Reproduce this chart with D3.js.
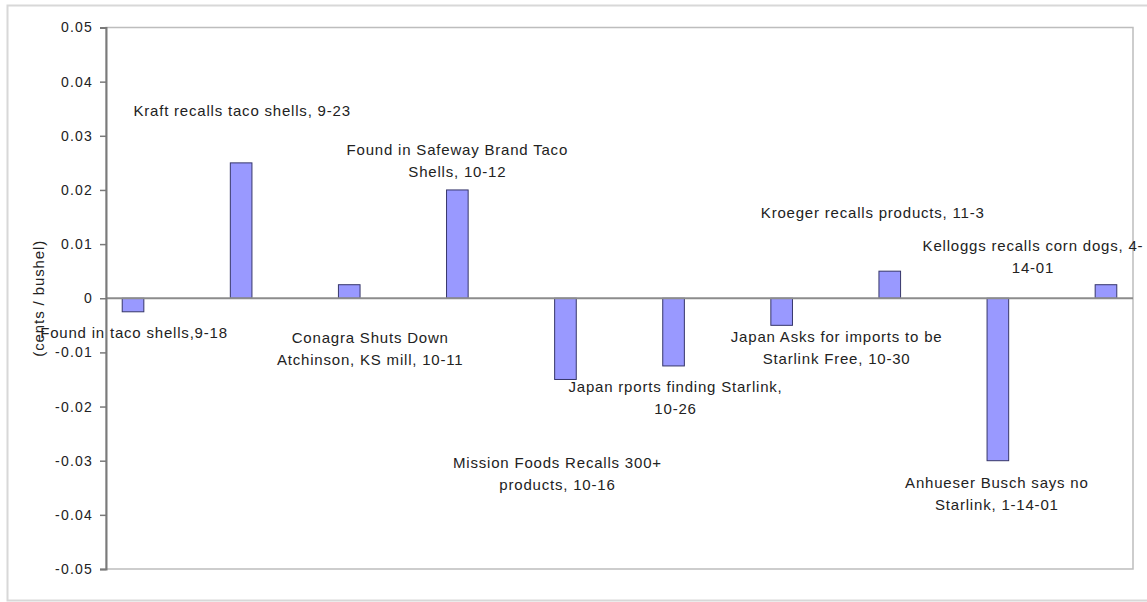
<!DOCTYPE html>
<html>
<head>
<meta charset="utf-8">
<script src="https://cdn.jsdelivr.net/npm/d3@7"></script>
<style>
  body { margin: 0; background: #fff; }
  svg { display: block; font-family: "Liberation Sans", Arial, sans-serif; }
  .tick text { fill: #222; }
</style>
</head>
<body>
<svg id="chart" width="1147" height="602"></svg>
<script>
// events in date order, one bar each
const events = ["9-18", "9-23", "10-11", "10-12", "10-16", "10-26", "10-30", "11-3", "1-14-01", "4-14-01"];
const change = [-0.0025, 0.025, 0.0025, 0.02, -0.015, -0.0125, -0.005, 0.005, -0.03, 0.0025];
const yTicks = [0.05, 0.04, 0.03, 0.02, 0.01, 0, -0.01, -0.02, -0.03, -0.04, -0.05];
const notes = [
  ["Found in taco shells,9-18"],
  ["Kraft recalls taco shells, 9-23"],
  ["Conagra Shuts Down", "Atchinson, KS mill, 10-11"],
  ["Found in Safeway Brand Taco", "Shells, 10-12"],
  ["Mission Foods Recalls 300+", "products, 10-16"],
  ["Japan rports finding Starlink,", "10-26"],
  ["Japan Asks for imports to be", "Starlink Free, 10-30"],
  ["Kroeger recalls products, 11-3"],
  ["Anhueser Busch says no", "Starlink, 1-14-01"],
  ["Kelloggs recalls corn dogs, 4-", "14-01"]
];
// where each note sits: px offset from bar centre, and first-line centre in data units
const notePos = [
  [1, -0.0064], [1, 0.0347], [21, -0.0073], [0, 0.0275], [-8, -0.0304],
  [2, -0.0164], [55, -0.0071], [-17, 0.0157], [-1, -0.0340], [-73, 0.0097]
];

const svg = d3.select("#chart");
const plotLeft = 106, plotRight = 1133, plotTop = 27.5, plotBottom = 569;

// outer chart frame
svg.append("rect")
  .attr("x", 7.5).attr("y", 5.5).attr("width", 1150).attr("height", 595)
  .attr("fill", "none").attr("stroke", "#d8d8d8").attr("stroke-width", 2);

let x = d3.scaleBand().domain(events).range([plotLeft, plotRight])
  .paddingInner(0.8).paddingOuter(0.15);
let y = d3.scaleLinear().domain([-0.05, 0.05]).range([plotBottom, plotTop]);

// plot area border
svg.append("rect")
  .attr("x", plotLeft).attr("y", y(0.05))
  .attr("width", plotRight - plotLeft).attr("height", y(-0.05) - y(0.05))
  .attr("fill", "none").attr("stroke", "#bdbdbd").attr("stroke-width", 1.5);

// bars
svg.append("g").selectAll("rect")
  .data(change)
  .enter().append("rect")
  .attr("x", (d, i) => x(events[i]))
  .attr("width", x.bandwidth())
  .attr("y", d => y(Math.max(0, d)))
  .attr("height", d => Math.abs(y(d) - y(0)))
  .attr("fill", "#9999ff")
  .attr("stroke", "#36366a")
  .attr("stroke-width", 1);

// zero line (category axis)
svg.append("line")
  .attr("x1", plotLeft).attr("x2", plotRight).attr("y1", y(0)).attr("y2", y(0))
  .attr("stroke", "#8c8c8c").attr("stroke-width", 2);

// value axis, plain hyphen for the minus sign like the original
let yAxis = svg.append("g")
  .attr("transform", "translate(" + plotLeft + ",0)")
  .call(d3.axisLeft(y).tickValues(yTicks).tickSize(6).tickPadding(7)
    .tickFormat(d => d === 0 ? "0" : d3.format(".2f")(d).replace("\u2212", "-")));
yAxis.select(".domain").attr("stroke", "#7a7a7a").attr("stroke-width", 2);
yAxis.selectAll(".tick line").attr("stroke", "#7a7a7a").attr("stroke-width", 1.5);
yAxis.selectAll(".tick text")
  .attr("font-size", "14px")
  .attr("letter-spacing", "1.2px")
  .attr("font-family", "'Liberation Sans', Arial, sans-serif");

// axis title
svg.append("text")
  .attr("transform", "translate(44," + y(0) + ") rotate(-90)")
  .attr("text-anchor", "middle")
  .attr("font-size", "15px")
  .attr("letter-spacing", "0.9px")
  .attr("fill", "#222")
  .text("(cents / bushel)");

// event notes
let noteG = svg.append("g");
notes.forEach(function(lines, i) {
  let cx = x(events[i]) + x.bandwidth() / 2 + notePos[i][0];
  let t = noteG.append("text")
    .attr("x", cx)
    .attr("y", y(notePos[i][1]))
    .attr("text-anchor", "middle")
    .attr("font-size", "15px")
    .attr("letter-spacing", "0.8px")
    .attr("fill", "#222");
  lines.forEach(function(s, j) {
    t.append("tspan").attr("x", cx).attr("dy", j === 0 ? "0.35em" : 22).text(s);
  });
});
</script>
</body>
</html>
